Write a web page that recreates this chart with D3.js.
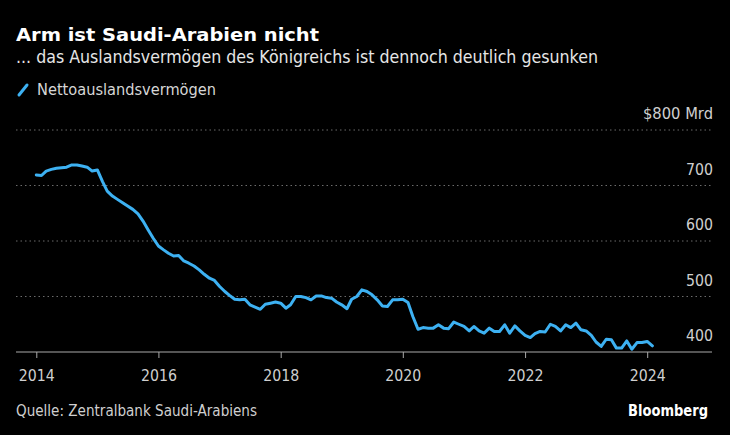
<!DOCTYPE html>
<html><head><meta charset="utf-8">
<script src="https://cdn.jsdelivr.net/npm/d3@7"></script>
<style>
html,body{margin:0;padding:0;background:#000;}
svg{display:block;}
text{font-family:"DejaVu Sans",sans-serif;}
</style></head>
<body>
<svg id="c" width="730" height="435"></svg>
<script>
// ---- data ----
const title = "Arm ist Saudi-Arabien nicht";
const subtitle = "... das Auslandsvermögen des Königreichs ist dennoch deutlich gesunken";
const seriesName = "Nettoauslandsvermögen";
const source = "Quelle: Zentralbank Saudi-Arabiens";
const startMonth = "2014-01"; // monthly series, first observation
const values = [
 719,718,726,729,731,732,733,737,737,735,733,726,
 728,707,690,681,675,669,663,657,649,636,620,605,
 591,584,578,573,574,564,560,555,548,540,533,529,
 518,509,502,495,494,495,485,481,477,486,488,490,
 488,479,485,500,500,498,494,501,501,498,497,490,
 485,478,495,500,512,509,503,494,483,482,494,494,
 495,489,464,441,444,443,443,449,443,442,454,450,
 446,438,446,438,434,443,437,437,449,434,447,438,
 430,426,433,437,436,450,446,438,449,444,452,440,
 438,430,418,410,423,422,407,407,420,405,417,417,
 419,411
];
const yTicks = [400,500,600,700,800];
const xTickYears = [2014,2016,2018,2020,2022,2024];

// ---- layout ----
const svg = d3.select("#c");
svg.append("rect").attr("width",730).attr("height",435).attr("fill","#000");

const parse = d3.timeParse("%Y-%m");
const t0 = parse(startMonth);
const data = values.map((v,i)=>({date:d3.timeMonth.offset(t0,i), value:v}));

const x = d3.scaleTime()
  .domain([new Date(2014,0,1), new Date(2024,0,1)])
  .range([36.3, 647.2]);
const y = d3.scaleLinear().domain([400,800]).range([352,130]);
const plotL = 16, plotR = 712;

// gridlines
svg.append("g").selectAll("line").data(yTicks.filter(d=>d>400)).join("line")
  .attr("x1",plotL).attr("x2",plotR)
  .attr("y1",d=>y(d)).attr("y2",d=>y(d))
  .attr("stroke","#6b6b6b").attr("stroke-width",1)
  .attr("stroke-dasharray","1.5,3");

// y labels
svg.append("g").selectAll("text").data(yTicks).join("text")
  .attr("x",plotR+1).attr("y",d=>y(d)-11)
  .attr("text-anchor","end").attr("fill","#cfcfcf")
  .attr("font-size",15.5)
  .text(d=> d===800 ? "$800 Mrd" : d)
  .each(function(d){ if(d===800) d3.select(this).attr("textLength",70).attr("lengthAdjust","spacingAndGlyphs");
    else d3.select(this).attr("textLength",27).attr("lengthAdjust","spacingAndGlyphs");});

// x axis
const xAxis = d3.axisBottom(x)
  .tickValues(xTickYears.map(yr=>new Date(yr,0,1)))
  .tickFormat(d3.timeFormat("%Y"))
  .tickSize(6).tickSizeOuter(0);
const gx = svg.append("g").attr("transform","translate(0,352)").call(xAxis);
gx.select(".domain").remove();
gx.selectAll(".tick line").attr("stroke","#aaa");
gx.selectAll(".tick text").attr("fill","#cfcfcf").attr("font-size",15.5)
  .attr("font-family","DejaVu Sans, sans-serif")
  .attr("y",18).attr("dy","0.71em").attr("textLength",36).attr("lengthAdjust","spacingAndGlyphs");
svg.append("line").attr("x1",plotL).attr("x2",plotR).attr("y1",352).attr("y2",352)
  .attr("stroke","#aaa").attr("stroke-width",1);

// line
const line = d3.line().x(d=>x(d.date)).y(d=>y(d.value)).curve(d3.curveLinear);
svg.append("path").datum(data).attr("d",line)
  .attr("fill","none").attr("stroke","#3db1f2").attr("stroke-width",3)
  .attr("stroke-linejoin","round").attr("stroke-linecap","round");

// titles
svg.append("text").attr("x",16).attr("y",41).attr("fill","#fff")
  .attr("font-size",18).attr("font-weight","bold").text(title)
  .attr("textLength",303).attr("lengthAdjust","spacingAndGlyphs");
svg.append("text").attr("x",16).attr("y",63).attr("fill","#e6e6e6")
  .attr("font-size",17.5).text(subtitle)
  .attr("textLength",582).attr("lengthAdjust","spacingAndGlyphs");

// legend
svg.append("line").attr("x1",19).attr("y1",95).attr("x2",27).attr("y2",85)
  .attr("stroke","#3db1f2").attr("stroke-width",3).attr("stroke-linecap","round");
svg.append("text").attr("x",37).attr("y",95).attr("fill","#d6d6d6")
  .attr("font-size",16).text(seriesName)
  .attr("textLength",179).attr("lengthAdjust","spacingAndGlyphs");

// footer
svg.append("text").attr("x",16).attr("y",416).attr("fill","#cfcfcf")
  .attr("font-size",15).text(source)
  .attr("textLength",241).attr("lengthAdjust","spacingAndGlyphs");
svg.append("text").attr("x",708).attr("y",416).attr("text-anchor","end").attr("fill","#fff")
  .attr("font-size",15).attr("font-weight","bold").text("Bloomberg")
  .attr("textLength",80).attr("lengthAdjust","spacingAndGlyphs");
</script>
</body></html>
